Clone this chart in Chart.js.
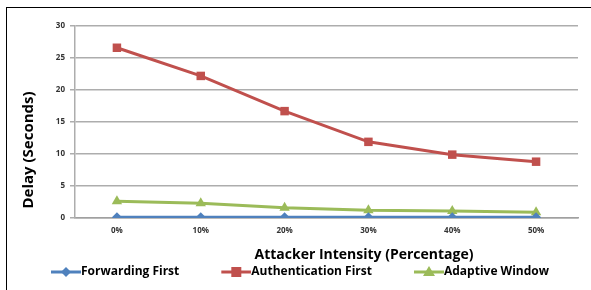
<!DOCTYPE html>
<html><head><meta charset="utf-8">
<script src="https://cdn.jsdelivr.net/npm/chart.js@4"></script>
<style>
html,body{margin:0;padding:0;background:#fff;overflow:hidden}
#wrap{position:relative;width:591px;height:290px}
#frame{position:absolute;left:6px;top:7px;width:600px;height:300px;border-left:1.5px solid #000;border-top:1.5px solid #000;box-sizing:border-box;pointer-events:none}
canvas{position:absolute;left:0;top:0}
</style></head>
<body><div id="wrap"><canvas id="c" width="591" height="290"></canvas><div id="frame"></div></div>
<script>
const categories = ["0%","10%","20%","30%","40%","50%"];
const forwardingFirst = [0.1,0.1,0.1,0.1,0.1,0.1];
const authenticationFirst = [26.6,22.2,16.7,11.9,9.9,8.8];
const adaptiveWindow = [2.6,2.3,1.6,1.2,1.1,0.9];
const yTicks = [0,5,10,15,20,25,30];
const xTitle = "Attacker Intensity (Percentage)";
const yTitle = "Delay (Seconds)";

const BLUE="#4F81BD", RED="#C0504D", GREEN="#9BBB59";
const BOXW=56;

function legendIcon(color, style){
  const W=2*(BOXW/2+6),H=14,c=document.createElement('canvas');c.width=W;c.height=H;
  const g=c.getContext('2d');
  const x0=W-30;
  g.strokeStyle=color;g.lineWidth=3;g.beginPath();g.moveTo(x0,H/2);g.lineTo(W,H/2);g.stroke();
  g.fillStyle=color;const cx=x0+15,cy=H/2;
  g.beginPath();
  if(style==='rect'){g.rect(cx-5,cy-5,10,10);}
  else if(style==='rectRot'){g.moveTo(cx,cy-5);g.lineTo(cx+5,cy);g.lineTo(cx,cy+5);g.lineTo(cx-5,cy);g.closePath();}
  else {g.moveTo(cx,cy-6);g.lineTo(cx+6,cy+4);g.lineTo(cx-6,cy+4);g.closePath();}
  g.fill();
  return c;
}

const titlesPlugin={id:'titles',afterDraw(chart){
  const ctx=chart.ctx;ctx.save();
  ctx.fillStyle="#000";ctx.textAlign="center";ctx.textBaseline="middle";
  ctx.font="bold 14px 'Open Sans', sans-serif";
  ctx.fillText(xTitle,364,255);
  ctx.translate(29,150);ctx.rotate(-Math.PI/2);
  ctx.font="bold 15px 'Open Sans', sans-serif";
  ctx.fillText(yTitle,0,0);
  ctx.restore();}};

new Chart(document.getElementById('c'),{
  type:'line',
  data:{labels:categories,datasets:[
    {label:"Forwarding First",data:forwardingFirst,borderColor:BLUE,backgroundColor:BLUE,borderWidth:3,pointStyle:'rectRot',pointRadius:5,pointBorderWidth:0,legendIcon:legendIcon(BLUE,'rectRot')},
    {label:"Authentication First",data:authenticationFirst,borderColor:RED,backgroundColor:RED,borderWidth:3,pointStyle:'rect',pointRadius:6,pointBorderWidth:0,legendIcon:legendIcon(RED,'rect')},
    {label:"Adaptive Window",data:adaptiveWindow,borderColor:GREEN,backgroundColor:GREEN,borderWidth:3,pointStyle:'triangle',pointRadius:6,pointBorderWidth:0,legendIcon:legendIcon(GREEN,'triangle')}
  ]},
  plugins:[titlesPlugin],
  options:{
    responsive:false,animation:false,
    layout:{padding:{left:-10,right:13,top:26,bottom:2}},
    plugins:{
      tooltip:{enabled:false},
      legend:{position:'bottom',labels:{
        usePointStyle:true,pointStyleWidth:BOXW,padding:10,boxHeight:12,
        color:"#000",font:{family:"'Open Sans', sans-serif",size:12,weight:'bold'},
        generateLabels(chart){return chart.data.datasets.map((d,i)=>({text:d.label,pointStyle:d.legendIcon,fillStyle:d.borderColor,strokeStyle:d.borderColor,lineWidth:0,datasetIndex:i,hidden:false}));}
      }}
    },
    scales:{
      x:{offset:true,
        grid:{display:false,drawTicks:false},
        border:{display:true,color:"#A0A0A0",width:1.5},
        ticks:{padding:8,color:"#333",font:{family:"'Open Sans', sans-serif",size:8,weight:'bold'}},
        afterFit(s){s.height=38;}
      },
      y:{min:0,max:30,
        afterBuildTicks(s){s.ticks=yTicks.map(v=>({value:v}));},
        grid:{color:"#ADADAD",lineWidth:1.5,tickLength:5,drawTicks:true},
        border:{display:true,color:"#ADADAD",width:1.5},
        ticks:{padding:5,color:"#333",font:{family:"'Open Sans', sans-serif",size:8,weight:'bold'}},
        afterFit(s){s.width=85;}
      }
    }
  }
});
</script></body></html>
